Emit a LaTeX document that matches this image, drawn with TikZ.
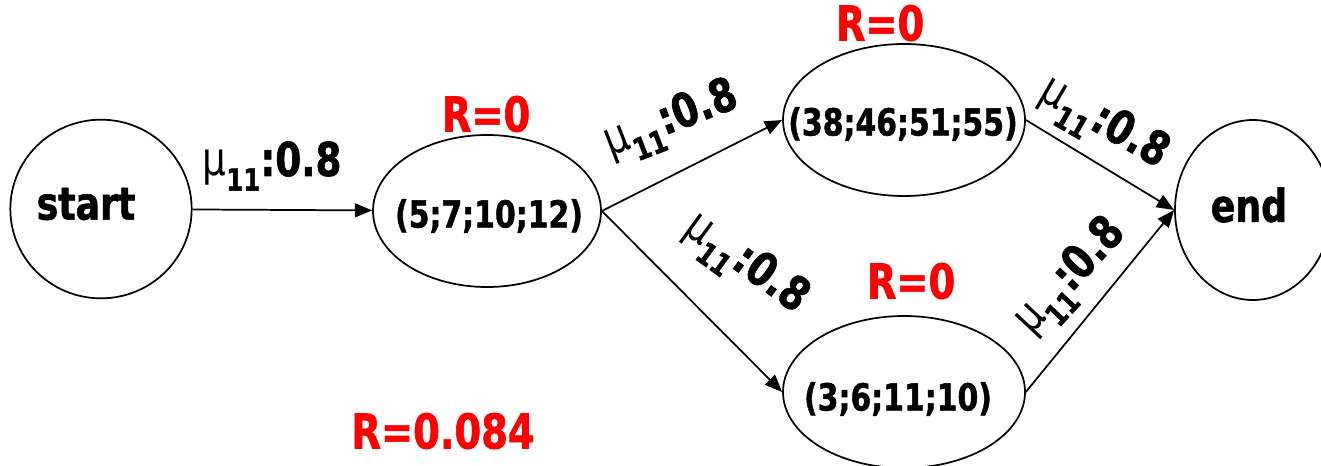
\documentclass[tikz,border=0pt]{standalone}
\usepackage{fontspec}
\setmainfont{DejaVu Sans}[FakeStretch=0.8, BoldFeatures={FakeBold=1.2}]
\usetikzlibrary{shapes.geometric, arrows.meta}

% membership label on the arcs
\newcommand{\mulab}{{\mdseries μ}\raisebox{-11pt}{\fontsize{23}{26}\selectfont 11}:0.8}

\begin{document}
\begin{tikzpicture}[x=0.75pt, y=-0.75pt,
        state/.style={draw, line width=1.3pt, ellipse, inner sep=0pt},
        stext/.style={font=\bfseries\fontsize{28}{32}\selectfont, inner sep=0pt},
        endtext/.style={font=\bfseries\fontsize{34}{40}\selectfont, inner sep=0pt},
        arc/.style={line width=1.3pt, -{Triangle[length=13pt,width=10.5pt]}},
        prob/.style={font=\bfseries\fontsize{35}{40}\selectfont, inner sep=0pt},
        rel/.style={text=red, font=\bfseries\fontsize{36}{42}\selectfont, inner sep=0pt}]

        \useasboundingbox (0,0) rectangle (1321,465);

        % states
        \node (Start) at (101,209) [state, minimum width=136pt, minimum height=134pt]{};
        \node (StartText) at (86,204) [endtext]{start};
        \node (First) at (487,211) [state, minimum width=171pt, minimum height=114pt]{};
        \node (FirstText) at (489,216) [stext]{(5;7;10;12)};
        \node (Upper) at (904,120) [state, minimum width=181.5pt, minimum height=114pt]{};
        \node (UpperText) at (903,124) [stext]{(38;46;51;55)};
        \node (Lower) at (904,392) [state, minimum width=181.5pt, minimum height=114pt]{};
        \node (LowerText) at (898,399) [stext]{(3;6;11;10)};
        \node (End) at (1253,210) [state, minimum width=117pt, minimum height=135pt]{};
        \node (EndText) at (1249,205) [endtext]{end};

        % arcs
        \draw[arc] (Start) -- (First);
        \draw[arc] (First.east) -- (Upper.west);
        \draw[arc] (First.east) -- (Lower.west);
        \draw[arc] (Upper.east) -- (End.west);
        \draw[arc] (Lower.east) -- (End.west);

        % arc labels
        \node (MuStart) at (272,166) [prob]{\mulab};
        \node (MuUpper) at (672,122) [prob, rotate=21]{\mulab};
        \node (MuLower) at (745,265) [prob, rotate=-36]{\mulab};
        \node (MuUpperEnd) at (1103,125) [prob, rotate=-30]{\mulab};
        \node (MuLowerEnd) at (1072,278) [prob, rotate=47]{\mulab};

        % reliabilities
        \node (RFirst) at (486,114) [rel]{R=0};
        \node (RUpper) at (880,23) [rel]{R=0};
        \node (RLower) at (911,281) [rel]{R=0};
        \node (RTotal) at (443,431) [rel]{R=0.084};
\end{tikzpicture}
\end{document}
